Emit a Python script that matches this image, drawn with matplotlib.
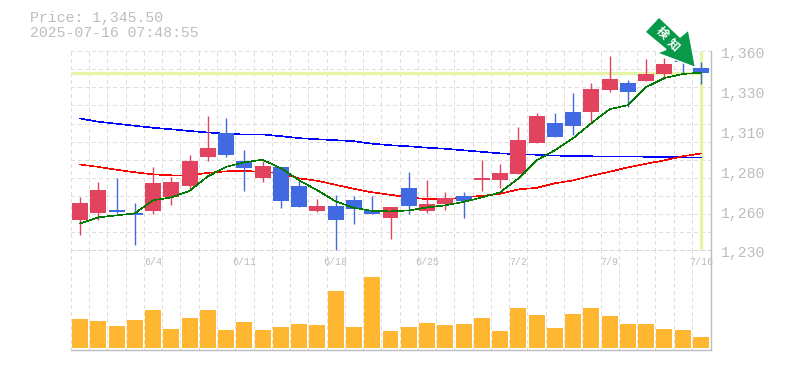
import numpy as np
import matplotlib
matplotlib.use('Agg')
import matplotlib.pyplot as plt
from matplotlib.patches import Polygon
from matplotlib.transforms import IdentityTransform, ScaledTranslation

W, H = 785, 370
MONO = 'Liberation Mono'
GREY = '#bdbdbd'
GRID = '#dedede'
HILITE = '#e4f5a8'

# Data
opens = [1249.6, 1254.2, 1256.1, 1254.2, 1255.5, 1264.6, 1271.8, 1290.7, 1306.4, 1288.1, 1277.0, 1284.2,
         1271.8, 1255.5, 1258.7, 1262.7, 1256.1, 1250.9, 1270.5, 1255.5, 1260.0, 1265.3, 1275.7, 1275.7,
         1279.6, 1299.9, 1313.0, 1320.1, 1320.1, 1334.5, 1339.1, 1340.4, 1345.0, 1355.4, 1348.9]
closes = [1260.7, 1269.2, 1254.8, 1252.9, 1273.8, 1274.4, 1288.1, 1296.6, 1292.1, 1283.6, 1284.9, 1262.0,
          1258.1, 1258.7, 1249.6, 1256.8, 1253.5, 1258.1, 1258.7, 1260.0, 1264.0, 1262.0, 1277.0, 1280.3,
          1301.9, 1317.5, 1303.8, 1311.0, 1335.2, 1341.7, 1333.2, 1345.0, 1351.5, 1352.8, 1345.6]
highs = [1264.6, 1274.4, 1277.0, 1260.7, 1284.2, 1277.7, 1292.1, 1317.5, 1316.2, 1295.3, 1288.1, 1284.2,
         1275.1, 1263.3, 1265.9, 1265.3, 1265.3, 1258.1, 1281.0, 1275.7, 1267.9, 1267.9, 1288.8, 1286.2,
         1310.3, 1319.5, 1319.5, 1332.6, 1339.1, 1356.7, 1341.1, 1354.8, 1355.4, 1357.0, 1352.8]
lows = [1240.4, 1249.6, 1254.2, 1233.9, 1253.5, 1259.4, 1269.2, 1288.1, 1290.7, 1268.5, 1274.4, 1257.4,
        1258.1, 1254.8, 1230.0, 1247.0, 1253.5, 1237.8, 1253.5, 1254.2, 1256.1, 1250.9, 1268.5, 1270.5,
        1279.6, 1299.9, 1303.8, 1305.1, 1312.3, 1333.2, 1323.4, 1340.4, 1341.7, 1345.6, 1338.4]
ma_short = [1247.6, 1251.6, 1252.9, 1254.2, 1262.7, 1264.6, 1268.9, 1278.3, 1284.5, 1287.5, 1289.1, 1283.6,
            1275.7, 1269.2, 1262.0, 1257.8, 1255.8, 1255.5, 1256.1, 1258.1, 1259.4, 1261.7, 1264.6, 1267.9,
            1277.0, 1288.8, 1295.3, 1303.2, 1313.0, 1322.1, 1324.7, 1336.5, 1342.4, 1345.0, 1345.9]
ma_mid = [1286.0, 1284.5, 1282.6, 1281.0, 1279.6, 1279.0, 1279.0, 1280.6, 1281.6, 1281.8, 1281.3, 1280.3,
          1277.0, 1275.4, 1272.8, 1270.2, 1267.9, 1266.3, 1264.6, 1263.5, 1263.3, 1264.6, 1265.6, 1266.9,
          1269.8, 1270.8, 1273.8, 1275.7, 1278.7, 1281.3, 1284.2, 1286.5, 1288.8, 1291.4, 1293.2]
ma_long = [1316.0, 1313.9, 1312.6, 1311.3, 1310.0, 1309.0, 1307.9, 1306.9, 1306.1, 1305.6, 1305.6, 1304.5,
           1303.2, 1302.5, 1301.9, 1301.2, 1299.6, 1298.6, 1297.9, 1297.0, 1296.3, 1295.3, 1294.3, 1293.3,
           1292.7, 1292.4, 1291.8, 1291.7, 1291.4, 1291.2, 1291.2, 1291.1, 1290.9, 1290.7, 1290.5]
volume = [29, 27, 22, 28, 38, 19, 30, 38, 18, 26, 18, 21, 24, 23, 57, 21, 71, 17,
          21, 25, 23, 24, 30, 17, 40, 33, 20, 34, 40, 32, 24, 24, 19, 18, 11]
last_price = 1345.5
date_pos = [4, 9, 14, 19, 24, 29, 34]
date_labels = ['6/4', '6/11', '6/18', '6/25', '7/2', '7/9', '7/16']
price_ticks = [1230, 1256, 1282, 1308, 1334, 1360]
price_labels = ['1,230', '1,260', '1,280', '1,310', '1,330', '1,360']

n = len(opens)
x = np.arange(n)
opens, closes = np.array(opens), np.array(closes)
up = closes >= opens
colors = np.where(up, '#e2435f', '#4169e1')
dash = (0, (2.4, 2.4))

def px_axes(left, top, right, bottom):
    return fig.add_axes([left / W, 1 - bottom / H, (right - left) / W, (bottom - top) / H])

fig = plt.figure(figsize=(W / 100, H / 100), dpi=100)
ax = px_axes(70.5, 51, 710.5, 250.5)
vol = px_axes(70.5, 250.5, 710.5, 350)

for a in (ax, vol):
    a.set_xticks(x - 0.5)
    a.set_xlim(-0.52, n - 0.48)
    a.tick_params(length=0, labelbottom=False, labelleft=False)
    a.grid(True, axis='x', color=GRID, lw=0.9, ls=dash, antialiased=False)
    a.set_axisbelow(True)
    a.spines['top'].set_visible(False)
    a.spines['left'].set_visible(False)
    for s in ('bottom', 'right'):
        a.spines[s].set_color(GREY)
        a.spines[s].set_linewidth(1.0)

# Price panel
ax.set_yticks(np.linspace(1230, 1360, 12))
ax.set_ylim(1230, 1360)
ax.grid(True, axis='y', color=GRID, lw=0.9, ls=dash, antialiased=False)
label_shift = ax.get_yaxis_transform() + ScaledTranslation(10.2 / 100, -3 / 100, fig.dpi_scale_trans)
for v, lab in zip(price_ticks, price_labels):
    ax.text(1.0, v, lab, transform=label_shift, ha='left', va='center', family=MONO, fontsize=10.75, color=GREY)

ax.hlines(last_price, -0.52, n - 1, color=HILITE, lw=2.4, zorder=1.5)
ax.vlines(n - 1, 1231, 1360, color=HILITE, lw=2.4, zorder=1.5)

ax.plot(x, ma_long, color='#0000ff', lw=0.42, zorder=2, antialiased=False)
ax.plot(x, ma_mid, color='#ff0000', lw=0.42, zorder=2, antialiased=False)
ax.vlines(x, lows, highs, colors=colors, lw=1.0, zorder=3)
ax.bar(x, np.abs(closes - opens), bottom=np.minimum(opens, closes), width=0.875, color=colors, zorder=3)
ax.plot(x, ma_short, color='#007a00', lw=0.42, zorder=4, antialiased=False)

# Volume panel
vol.set_yticks([])
vol.set_ylim(-2, 97.5)
vol.bar(x, volume, width=0.875, color='#ffb732', zorder=3)
for pos, lab in zip(date_pos, date_labels):
    vol.text(pos, 0.88, lab, transform=vol.get_xaxis_transform(), ha='center', va='center',
             family=MONO, fontsize=7.2, color=GREY, zorder=5)

# Header
fig.text(30 / W, 1 - 18 / H, 'Price: 1,345.50', family=MONO, fontsize=10.75, color=GREY, va='center')
fig.text(30 / W, 1 - 33 / H, '2025-07-16 07:48:55', family=MONO, fontsize=10.75, color=GREY, va='center')

# Green arrow badge, in screen pixels
arrow_px = [(659, 17), (645, 32), (666, 49.5), (657, 53), (695.5, 67.5), (688.5, 30), (680, 37)]
arrow = Polygon([(px, H - py) for px, py in arrow_px], closed=True, facecolor='#089a48', edgecolor='white',
                lw=1.0, transform=IdentityTransform(), zorder=10)
fig.add_artist(arrow)
for ch, (px, py) in zip('検知', [(662, 33), (673, 45)]):
    fig.text(px / W, 1 - py / H, ch, family=['Noto Sans CJK JP', 'DejaVu Sans'], fontsize=8.5, fontweight='bold',
             color='white', rotation=-45, ha='center', va='center', zorder=11)

fig.savefig('out.png', dpi=100)
